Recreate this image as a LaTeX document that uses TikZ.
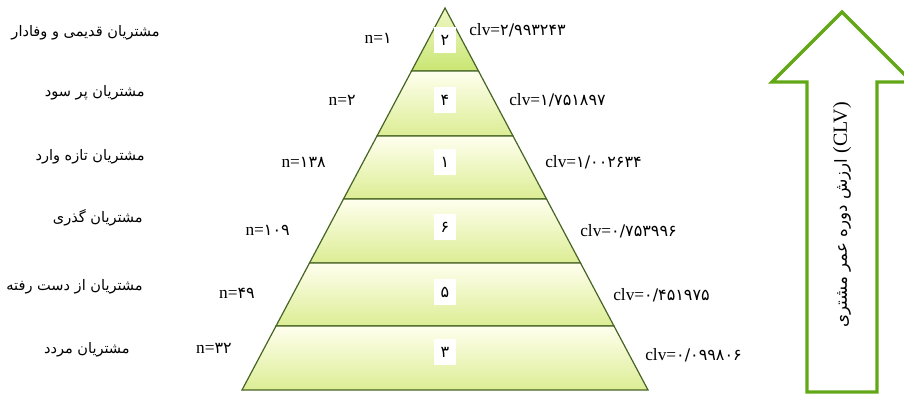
\documentclass[tikz,border=0pt]{standalone}
\usepackage{fontspec}
\setmainfont{Liberation Serif}
\newfontfamily\fa[Script=Arabic]{DejaVu Sans}
\TeXXeTstate=1
\usetikzlibrary{calc}
\definecolor{leaf}{RGB}{70,100,35}
\definecolor{cream}{RGB}{255,255,238}
\definecolor{lime}{RGB}{220,237,148}
\definecolor{limedark}{RGB}{202,230,115}
\definecolor{grass}{RGB}{98,168,22}
\tikzset{
  tier/.style={draw=leaf,line width=0.9pt,top color=cream,bottom color=lime},
  toptier/.style={tier,top color=lime!45!cream,bottom color=limedark},
  numbox/.style={fill=white,minimum width=17pt,minimum height=19pt,inner sep=0pt,font=\fa\fontsize{12}{14}\selectfont},
  nlabel/.style={anchor=east,inner sep=0pt,font=\fontsize{13}{15}\selectfont},
  clvlabel/.style={anchor=west,inner sep=0pt,font=\fontsize{13}{15}\selectfont},
  seglabel/.style={anchor=east,inner sep=0pt,font=\fa\fontsize{10.9}{13}\selectfont},
  clvarrow/.style={draw=grass,line width=2.4pt,fill=white,line join=miter},
}
\newcommand{\pd}[1]{{\fa\fontsize{12}{14}\selectfont #1}}

\begin{document}
\begin{tikzpicture}[x=0.75pt,y=-0.75pt]
  \useasboundingbox (0,0) rectangle (904,394);
  \clip (0,0) rectangle (904,394);
  % pyramid
  \coordinate (apex) at (445,8);
  \coordinate (bl) at (242,390);
  \coordinate (br) at (648,390);
  \path[toptier] (apex) -- ($(apex)!0.1649!(br)$) -- ($(apex)!0.1649!(bl)$) -- cycle;
  \foreach \ta/\tb in {0.1649/0.3351,0.3351/0.5,0.5/0.6675,0.6675/0.8325,0.8325/1}
    \path[tier] ($(apex)!\ta!(bl)$) -- ($(apex)!\ta!(br)$) -- ($(apex)!\tb!(br)$) -- ($(apex)!\tb!(bl)$) -- cycle;
  \foreach \yc/\num [count=\i] in {40/۲,100/۴,162/۱,227/۶,292/۵,352/۳}
    \node[numbox] (num\i) at (445,\yc) {\num};
  % counts
  \node[nlabel] (n1) at (392,38) {n=\pd{۱}};
  \node[nlabel] (n2) at (356,100) {n=\pd{۲}};
  \node[nlabel] (n3) at (326,162) {n=\pd{۱۳۸}};
  \node[nlabel] (n4) at (290,230) {n=\pd{۱۰۹}};
  \node[nlabel] (n5) at (255,293) {n=\pd{۴۹}};
  \node[nlabel] (n6) at (232,348) {n=\pd{۳۲}};
  % values
  \node[clvlabel] (c1) at (469,30) {clv=\pd{۲/۹۹۳۲۴۳}};
  \node[clvlabel] (c2) at (509,100) {clv=\pd{۱/۷۵۱۸۹۷}};
  \node[clvlabel] (c3) at (545,162) {clv=\pd{۱/۰۰۲۶۳۴}};
  \node[clvlabel] (c4) at (580,231) {clv=\pd{۰/۷۵۳۹۹۶}};
  \node[clvlabel] (c5) at (613,295) {clv=\pd{۰/۴۵۱۹۷۵}};
  \node[clvlabel] (c6) at (645,355) {clv=\pd{۰/۰۹۹۸۰۶}};
  % segments
  \node[seglabel] (s1) at (160,33) {\beginR مشتریان قدیمی و وفادار\endR};
  \node[seglabel] (s2) at (145,93) {\beginR مشتریان پر سود\endR};
  \node[seglabel] (s3) at (145,157) {\beginR مشتریان تازه وارد\endR};
  \node[seglabel] (s4) at (143,218) {\beginR مشتریان گذری\endR};
  \node[seglabel] (s5) at (143,287) {\beginR مشتریان از دست رفته\endR};
  \node[seglabel] (s6) at (130,350) {\beginR مشتریان مردد\endR};
  % arrow
  \path[clvarrow] (842,12) -- (912,82) -- (877,82) -- (877,392) -- (807,392) -- (807,82) -- (772,82) -- cycle;
  \node[rotate=90,font=\fa\fontsize{12.5}{15}\selectfont] (ax) at (842,215)
    {\beginR\beginL{\rmfamily\fontsize{15}{17}\selectfont(CLV)}\endL{} ارزش دوره عمر مشتری\endR};
\end{tikzpicture}
\end{document}
